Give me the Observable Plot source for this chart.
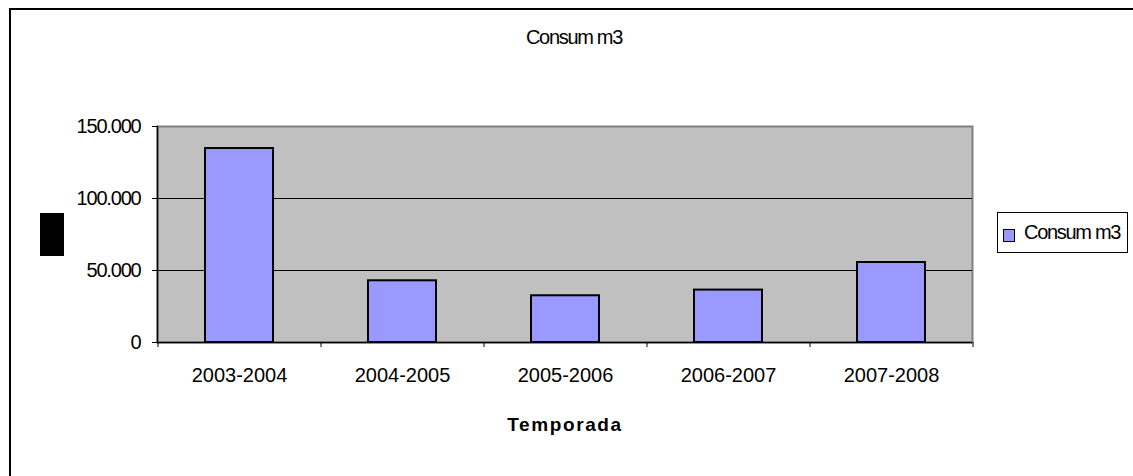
<!DOCTYPE html>
<html>
<head>
<meta charset="utf-8">
<script src="https://cdn.jsdelivr.net/npm/d3@7"></script>
<script src="https://cdn.jsdelivr.net/npm/@observablehq/plot@0.6"></script>
<style>
  html, body { margin: 0; padding: 0; background: #fff; }
  #wrap { position: relative; width: 1133px; height: 476px; overflow: hidden; font-family: "Liberation Sans", Arial, sans-serif; }
  #border { position: absolute; left: 9px; top: 8px; width: 1140px; height: 500px; border-left: 2px solid #000; border-top: 2px solid #000; box-sizing: border-box; }
  #title { position: absolute; left: 0; width: 1148px; top: 26px; text-align: center; font-size: 20px; letter-spacing: -1.3px; color: #000; }
  #xlabel { position: absolute; left: 0; width: 1130px; top: 414px; text-align: center; font-size: 19px; font-weight: bold; letter-spacing: 1.6px; color: #000; }
  #ybox { position: absolute; left: 40px; top: 213px; width: 24px; height: 43px; background: #000; }
  #legend { position: absolute; left: 997px; top: 212px; width: 131px; height: 41px; border: 1px solid #000; box-sizing: border-box; background: #fff; }
  #legend .sw { position: absolute; left: 5px; top: 16px; width: 10px; height: 11px; border: 1.5px solid #000; background: #9999ff; }
  #legend .tx { position: absolute; left: 26px; top: 8px; font-size: 20px; letter-spacing: -1.3px; white-space: nowrap; }
  #chart { position: absolute; left: 0; top: 0; }
</style>
</head>
<body>
<div id="wrap">
  <div id="border"></div>
  <div id="title"></div>
  <div id="ybox"></div>
  <div id="chart"></div>
  <div id="xlabel"></div>
  <div id="legend"><div class="sw"></div><div class="tx"></div></div>
</div>
<script>
const seasons = ["2003-2004", "2004-2005", "2005-2006", "2006-2007", "2007-2008"];
const consum = [134700, 42850, 32450, 36400, 55550];
const yTicks = [0, 50000, 100000, 150000];
const gridValues = [50000, 100000];
const titleText = "Consum m3";
const seriesName = "Consum m3";
const xTitle = "Temporada";

const data = seasons.map((s, i) => ({season: s, value: consum[i]}));

const W = 1133, H = 476;
const mL = 157, mR = 161, mT = 126, mB = 134;
const step = (W - mL - mR) / seasons.length;

const loc = d3.formatLocale({decimal: ",", thousands: ".", grouping: [3], currency: ["", "€"]});
const fmt = loc.format(",");

const chart = Plot.plot({
  width: W,
  height: H,
  marginLeft: mL,
  marginRight: mR,
  marginTop: mT,
  marginBottom: mB,
  style: {fontFamily: "'Liberation Sans', Arial, sans-serif", fontSize: "20px", background: "transparent", color: "#000", overflow: "visible"},
  x: {domain: seasons, paddingInner: 0.585, paddingOuter: 0.2925, label: null},
  y: {domain: [0, 150000], label: null},
  marks: [
    Plot.frame({fill: "#c0c0c0", stroke: "#808080", strokeWidth: 2}),
    Plot.ruleY(gridValues, {stroke: "#000", strokeWidth: 1}),
    Plot.barY(data, {x: "season", y: "value", fill: "#9999ff", stroke: "#000", strokeWidth: 2}),
    Plot.ruleY([0], {stroke: "#000", strokeWidth: 1.5}),
    Plot.frame({anchor: "left", stroke: "#000", strokeWidth: 1.5}),
    Plot.axisY({ticks: yTicks, tickFormat: fmt, tickSize: 5, tickPadding: 12, label: null, stroke: "#000", fontSize: 20}),
    Plot.axisX({tickSize: 0, tickPadding: 25, label: null, fontSize: 20}),
    Plot.axisX({tickSize: 5, tickFormat: () => "", dx: -step / 2, label: null, stroke: "#000"}),
    Plot.axisX({ticks: [seasons[seasons.length - 1]], tickSize: 5, tickFormat: () => "", dx: step / 2, label: null, stroke: "#000"})
  ]
});

chart.querySelectorAll('g[aria-label="y-axis tick label"] text').forEach(t => t.style.letterSpacing = "-1.2px");

document.getElementById("chart").appendChild(chart);
document.getElementById("title").textContent = titleText;
document.getElementById("xlabel").textContent = xTitle;
document.querySelector("#legend .tx").textContent = seriesName;
</script>
</body>
</html>
